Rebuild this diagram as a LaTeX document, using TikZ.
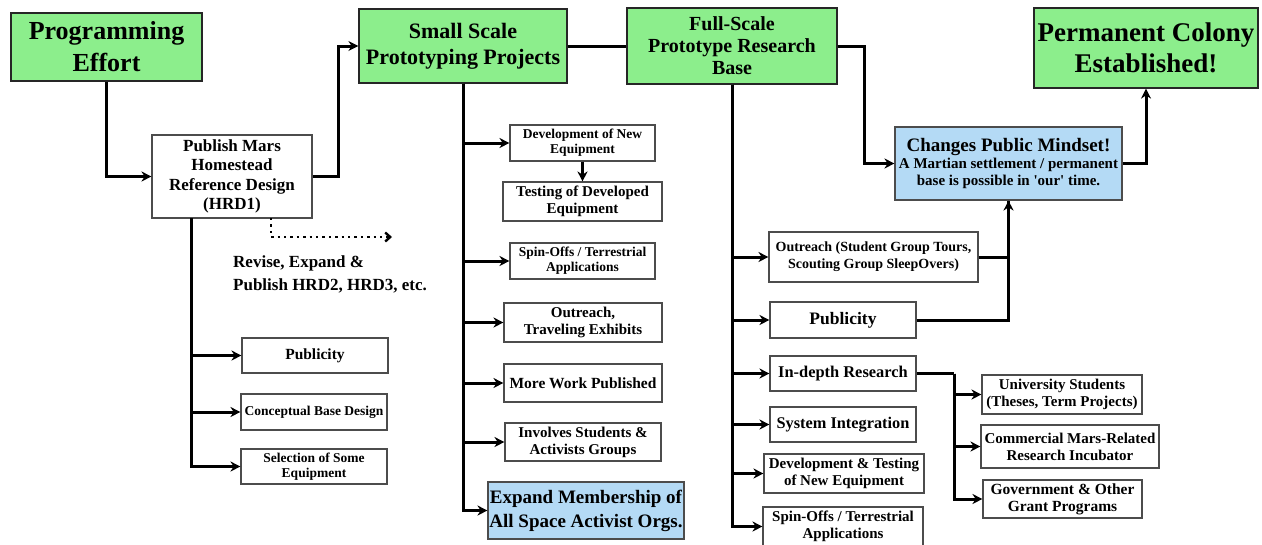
\documentclass[tikz,border=0pt]{standalone}
\usepackage{fontspec}
\setmainfont{Liberation Serif}
\usepackage{tikz}
\usetikzlibrary{shapes.geometric, arrows.meta}
\definecolor{goalGreen}{RGB}{140,238,140}
\definecolor{noteBlue}{RGB}{180,218,245}
\tikzstyle{goalBox} = [rectangle, draw=black!85, line width=1.2pt, fill=goalGreen, align=center, inner sep=0pt, font=\bfseries\fontsize{26}{32}\selectfont]
\tikzstyle{taskBox} = [rectangle, draw=black!70, line width=1.1pt, fill=white, align=center, inner sep=0pt, font=\bfseries\fontsize{15}{17}\selectfont]
\tikzstyle{noteBox} = [taskBox, fill=noteBlue]
\tikzstyle{arrow} = [line width=3pt, -{Stealth[length=10pt,width=10pt]}]
\tikzstyle{link} = [line width=3pt, -]
\tikzstyle{draftLink} = [line width=2.4pt, dash pattern=on 2.4pt off 4pt, -{Straight Barb[length=5pt,width=9pt]}]

\begin{document}
\begin{tikzpicture}[x=1pt,y=-1pt]
                        \useasboundingbox (0,0) rectangle (1262,544);
                        \node (prog) [goalBox, minimum width=191, minimum height=68] at (106.5,47) {Programming\\Effort};
                        \node (small) [goalBox, minimum width=208, minimum height=74, font=\bfseries\fontsize{22}{26}\selectfont] at (463,46) {Small Scale\\Prototyping Projects};
                        \node (full) [goalBox, minimum width=210, minimum height=76, font=\bfseries\fontsize{20}{22}\selectfont] at (732,46) {Full-Scale\\Prototype Research\\Base};
                        \node (perm) [goalBox, minimum width=224, minimum height=80, font=\bfseries\fontsize{27}{31}\selectfont] at (1146,48) {Permanent Colony\\Established!};
                        \node (hrd) [taskBox, minimum width=160, minimum height=83, font=\bfseries\fontsize{17}{19.5}\selectfont] at (232,176.5) {Publish Mars\\Homestead\\Reference Design\\(HRD1)};
                        \node (chg) [noteBox, minimum width=227, minimum height=73] at (1008.5,163.5) {{\fontsize{19}{21}\selectfont Changes Public Mindset!}\\A Martian settlement / permanent\\base is possible in \textquotesingle our\textquotesingle{} time.};
                        \node (rev) [anchor=north west, align=left, inner sep=0pt, font=\bfseries\fontsize{17}{23}\selectfont] at (233,255) {Revise, Expand \&\\Publish HRD2, HRD3, etc.};
                        \node (pub1) [taskBox, minimum width=146, minimum height=35, font=\bfseries\fontsize{15.5}{17}\selectfont] at (315,355.5) {Publicity};
                        \node (concept) [taskBox, minimum width=146, minimum height=36, font=\bfseries\fontsize{13.5}{15}\selectfont] at (314,412) {Conceptual Base Design};
                        \node (select) [taskBox, minimum width=146, minimum height=35, font=\bfseries\fontsize{13.5}{15}\selectfont] at (314,466.5) {Selection of Some\\Equipment};
                        \node (dev) [taskBox, minimum width=145, minimum height=36, font=\bfseries\fontsize{13.5}{15}\selectfont] at (582.5,143) {Development of New\\Equipment};
                        \node (test) [taskBox, minimum width=159, minimum height=39] at (582.5,201.5) {Testing of Developed\\Equipment};
                        \node (spin1) [taskBox, minimum width=145, minimum height=36, font=\bfseries\fontsize{13.5}{15}\selectfont] at (582.5,261) {Spin-Offs / Terrestrial\\Applications};
                        \node (outr1) [taskBox, minimum width=158, minimum height=39] at (583,322.5) {Outreach,\\Traveling Exhibits};
                        \node (more) [taskBox, minimum width=158, minimum height=38, font=\bfseries\fontsize{15.5}{17}\selectfont] at (583,383) {More Work Published};
                        \node (inv) [taskBox, minimum width=156, minimum height=38] at (583,442) {Involves Students \&\\Activists Groups};
                        \node (expand) [noteBox, minimum width=196, minimum height=57, font=\bfseries\fontsize{19}{24}\selectfont] at (586,510.5) {Expand Membership of\\All Space Activist Orgs.};
                        \node (outr2) [taskBox, minimum width=209, minimum height=50, font=\bfseries\fontsize{14}{17}\selectfont] at (873.5,257) {Outreach (Student Group Tours,\\Scouting Group SleepOvers)};
                        \node (pub2) [taskBox, minimum width=146, minimum height=36, font=\bfseries\fontsize{17.5}{19}\selectfont] at (843,320) {Publicity};
                        \node (indepth) [taskBox, minimum width=146, minimum height=35, font=\bfseries\fontsize{16.4}{18}\selectfont] at (843,373.5) {In-depth Research};
                        \node (sysint) [taskBox, minimum width=146, minimum height=35, font=\bfseries\fontsize{16.3}{18}\selectfont] at (843,424.5) {System Integration};
                        \node (dev2) [taskBox, minimum width=160, minimum height=39] at (844,473.5) {Development \& Testing\\of New Equipment};
                        \node (spin2) [taskBox, minimum width=160, minimum height=39] at (843,526.5) {Spin-Offs / Terrestrial\\Applications};
                        \node (univ) [taskBox, minimum width=160, minimum height=39] at (1062,394.5) {University Students\\(Theses, Term Projects)};
                        \node (comm) [taskBox, minimum width=178, minimum height=43] at (1070,446.5) {Commercial Mars-Related\\Research Incubator};
                        \node (gov) [taskBox, minimum width=159, minimum height=38, font=\bfseries\fontsize{15.5}{17}\selectfont] at (1062.5,499) {Government \& Other\\Grant Programs};
                        \coordinate (hrdTrunk) at (191,218);
                        \coordinate (revStart) at (271,218);
                        \coordinate (revEnd) at (392,237);
                        \coordinate (resSplit) at (954,373.5);
                        \draw (prog.south) [arrow] |- (hrd.west);
                        \draw (hrd.east) [arrow] -- ++(26,0) |- (small.west);
                        \draw (small.east) [link] -- (full.west);
                        \draw (full.east) [arrow] -- ++(27,0) |- (chg.west);
                        \draw (chg.east) [arrow] -| (perm.south);
                        \draw (revStart) [draftLink] |- (revEnd);
                        \draw (hrdTrunk) [arrow] |- (pub1.west);
                        \draw (hrdTrunk) [arrow] |- (concept.west);
                        \draw (hrdTrunk) [arrow] |- (select.west);
                        \draw (small.south) [arrow] |- (dev.west);
                        \draw (dev.south) [arrow] -- (test.north);
                        \draw (small.south) [arrow] |- (spin1.west);
                        \draw (small.south) [arrow] |- (outr1.west);
                        \draw (small.south) [arrow] |- (more.west);
                        \draw (small.south) [arrow] |- (inv.west);
                        \draw (small.south) [arrow] |- (expand.west);
                        \draw (full.south) [arrow] |- (outr2.west);
                        \draw (full.south) [arrow] |- (pub2.west);
                        \draw (full.south) [arrow] |- (indepth.west);
                        \draw (full.south) [arrow] |- (sysint.west);
                        \draw (full.south) [arrow] |- (dev2.west);
                        \draw (full.south) [arrow] |- (spin2.west);
                        \draw (outr2.east) [link] -| (chg.south);
                        \draw (pub2.east) [arrow] -| (chg.south);
                        \draw (indepth.east) [link] -- (resSplit);
                        \draw (resSplit) [arrow] |- (univ.west);
                        \draw (resSplit) [arrow] |- (comm.west);
                        \draw (resSplit) [arrow] |- (gov.west);
                    \end{tikzpicture}
\end{document}
